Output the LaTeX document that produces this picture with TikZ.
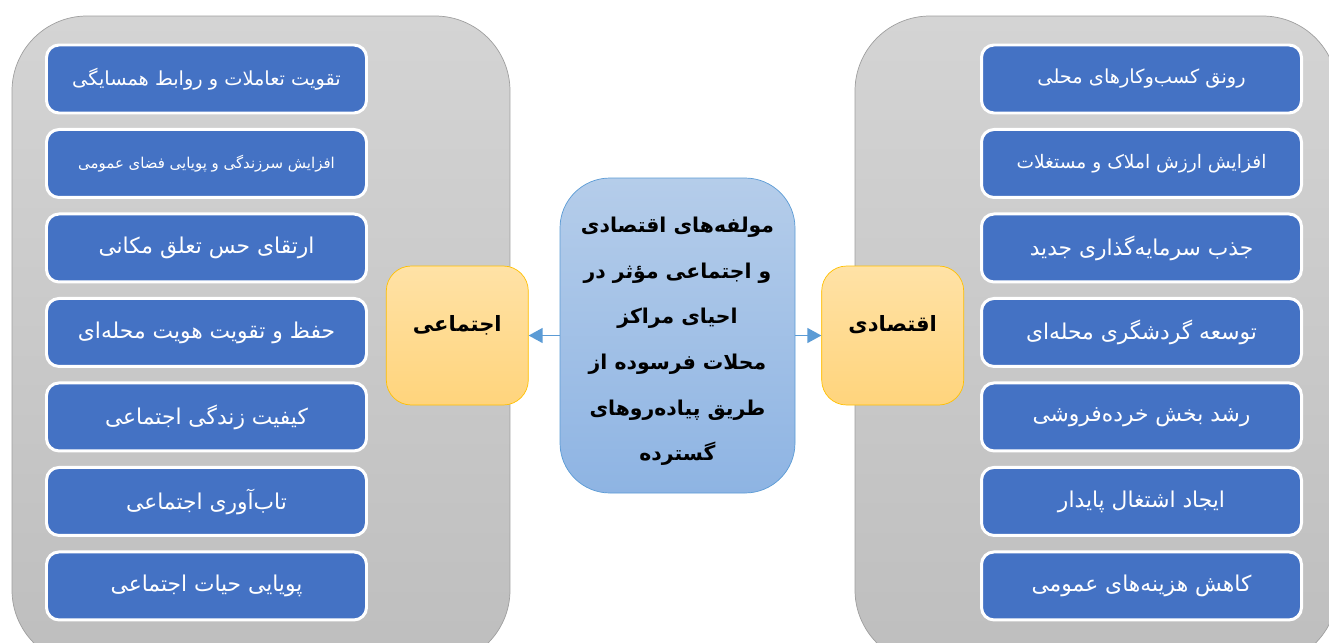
\documentclass[tikz,border=0pt]{standalone}
\usepackage{fontspec}
\newfontfamily\persianfont[Script=Arabic]{DejaVu Sans}
\TeXXeTstate=1
\usetikzlibrary{arrows.meta,positioning}
\definecolor{itemblue}{HTML}{4472C4}
\definecolor{linkblue}{HTML}{5B9BD5}
\definecolor{coretop}{HTML}{B5CDEA}
\definecolor{corebot}{HTML}{8EB4E3}
\definecolor{cattop}{HTML}{FFE2A6}
\definecolor{catbot}{HTML}{FFD47C}
\definecolor{catline}{HTML}{FFC000}
\definecolor{paneltop}{HTML}{D4D4D4}
\definecolor{panelbot}{HTML}{BEBEBE}
\newcommand{\rl}[1]{\beginR#1\endR}
\tikzset{
    panelbox/.style={draw=gray!75, rounded corners=1.5cm, top color=paneltop, bottom color=panelbot},
    itembox/.style={draw=white, line width=1.7pt, fill=itemblue, rounded corners=0.25cm,
        text=white, align=center, font=\persianfont\fontsize{12.4}{14}\selectfont,
        minimum width=6.4cm, minimum height=1.36cm, inner sep=0pt},
    wideitem/.style={itembox, font=\persianfont\fontsize{11}{13}\selectfont},
    smallitem/.style={itembox, font=\persianfont\fontsize{8.5}{10}\selectfont},
    catbox/.style={draw=catline, rounded corners=0.5cm, top color=cattop, bottom color=catbot,
        font=\persianfont\bfseries\fontsize{12}{14}\selectfont, text depth=0.5cm,
        minimum width=2.84cm, minimum height=2.78cm, inner sep=0pt},
    corebox/.style={draw=linkblue, rounded corners=1cm, top color=coretop, bottom color=corebot,
        minimum width=4.7cm, minimum height=6.3cm, inner sep=0pt},
    coretext/.style={align=center, font=\persianfont\bfseries\fontsize{11.6}{26}\selectfont, inner sep=0pt},
    linkarrow/.style={-{Triangle[length=0.28cm, width=0.3cm]}, draw=linkblue, line width=0.8pt}
}

\begin{document}
\begin{tikzpicture}[node distance=0.27cm]
\useasboundingbox (0,0) rectangle (26.58,-12.84);
% grey panels
\path[panelbox] (0.24,-0.32) rectangle (10.2,-13.3);
\path[panelbox] (17.1,-0.32) rectangle (26.75,-13.3);

% centre
\node[corebox] (core) at (13.55,-6.71) {};
\node[coretext] (coretxt) at ([yshift=-0.12cm]core.center) {\rl{مولفه‌های اقتصادی}\\\rl{و اجتماعی مؤثر در}\\\rl{احیای مراکز}\\\rl{محلات فرسوده از}\\\rl{طریق پیاده‌روهای}\\\rl{گسترده}};
\node[catbox, left=0.62cm of core] (social) {\rl{اجتماعی}};
\node[catbox, right=0.52cm of core] (econ) {\rl{اقتصادی}};
\draw[linkarrow] (core) -- (social);
\draw[linkarrow] (core) -- (econ);

% social items
\node[wideitem] (s1) at (4.13,-1.58) {\rl{تقویت تعاملات و روابط همسایگی}};
\node[smallitem, below=of s1] (s2) {\rl{افزایش سرزندگی و پویایی فضای عمومی}};
\node[itembox, below=of s2] (s3) {\rl{ارتقای حس تعلق مکانی}};
\node[itembox, below=of s3] (s4) {\rl{حفظ و تقویت هویت محله‌ای}};
\node[itembox, below=of s4] (s5) {\rl{کیفیت زندگی اجتماعی}};
\node[itembox, below=of s5] (s6) {\rl{تاب‌آوری اجتماعی}};
\node[itembox, below=of s6] (s7) {\rl{پویایی حیات اجتماعی}};

% economic items
\node[wideitem] (e1) at (22.83,-1.58) {\rl{رونق کسب‌وکارهای محلی}};
\node[wideitem, below=of e1, font=\persianfont\fontsize{10.6}{12}\selectfont] (e2) {\rl{افزایش ارزش املاک و مستغلات}};
\node[itembox, below=of e2] (e3) {\rl{جذب سرمایه‌گذاری جدید}};
\node[itembox, below=of e3] (e4) {\rl{توسعه گردشگری محله‌ای}};
\node[itembox, below=of e4] (e5) {\rl{رشد بخش خرده‌فروشی}};
\node[itembox, below=of e5] (e6) {\rl{ایجاد اشتغال پایدار}};
\node[itembox, below=of e6] (e7) {\rl{کاهش هزینه‌های عمومی}};
\end{tikzpicture}
\end{document}
